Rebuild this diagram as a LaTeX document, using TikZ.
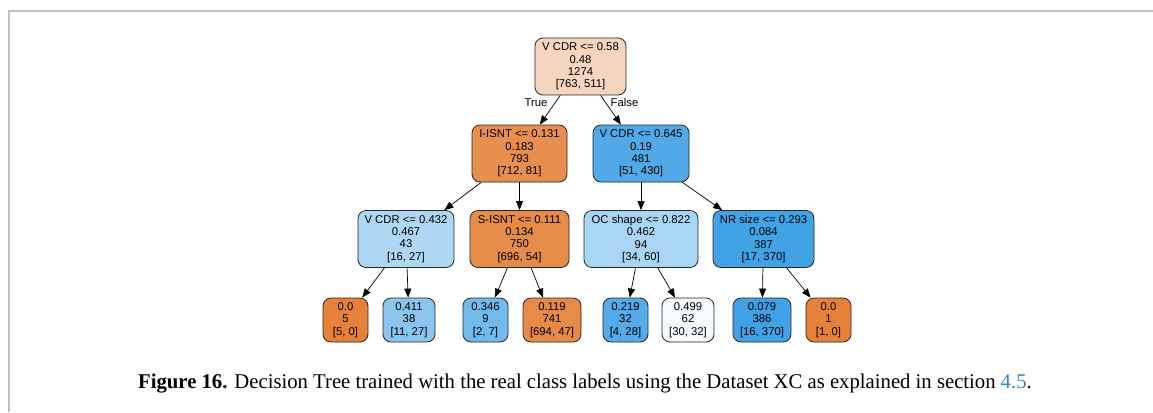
\documentclass[tikz,border=0pt]{standalone}
\usepackage{fontspec}
\setmainfont{Liberation Serif}
\newfontfamily\treefont{Liberation Sans}
\newfontfamily\capfont[FakeStretch=0.986]{Liberation Serif}
\usetikzlibrary{arrows.meta}

% class colours of the tree (class 0 orange, class 1 blue)
\definecolor{clsA}{RGB}{229,129,57}
\definecolor{clsB}{RGB}{57,157,229}
\definecolor{framegray}{RGB}{192,192,192}
\definecolor{linkblue}{RGB}{60,130,190}

\tikzset{
  treenode/.style={draw=black!85, line width=0.8bp, rounded corners=8bp,
    inner sep=0pt, align=center,
    font=\treefont\fontsize{11.3bp}{12.3bp}\selectfont},
  splitnode/.style={treenode, minimum height=57bp},
  leafnode/.style={treenode, minimum height=44bp},
  treeedge/.style={-{Triangle[length=9bp,width=7bp]}, line width=0.7bp, black},
  branchlabel/.style={inner sep=0pt, font=\treefont\fontsize{11.3bp}{12.3bp}\selectfont},
}

\begin{document}
\begin{tikzpicture}[x=1bp, y=-1bp]
\useasboundingbox (0,0) rectangle (1153,412);

% page frame
\draw[framegray, line width=2bp] (8.5,412) -- (8.5,10.5) -- (1153,10.5);

% root
\node[splitnode, fill=clsA!33, minimum width=91bp] (n0) at (580.5,66.5)
  {V CDR <= 0.58\\0.48\\1274\\{}[763, 511]};

% depth 1
\node[splitnode, fill=clsA!88.6, minimum width=95bp] (n1) at (519.5,153.5)
  {I-ISNT <= 0.131\\0.183\\793\\{}[712, 81]};
\node[splitnode, fill=clsB!88.1, minimum width=96bp] (n2) at (641,153.5)
  {V CDR <= 0.645\\0.19\\481\\{}[51, 430]};

% depth 2
\node[splitnode, fill=clsB!40.7, minimum width=96bp] (n3) at (406,239)
  {V CDR <= 0.432\\0.467\\43\\{}[16, 27]};
\node[splitnode, fill=clsA!92.2, minimum width=99bp] (n4) at (519.5,239)
  {S-ISNT <= 0.111\\0.134\\750\\{}[696, 54]};
\node[splitnode, fill=clsB!43.3, minimum width=114bp] (n5) at (641,239)
  {OC shape <= 0.822\\0.462\\94\\{}[34, 60]};
\node[splitnode, fill=clsB!95.4, minimum width=101bp] (n6) at (763.5,239)
  {NR size <= 0.293\\0.084\\387\\{}[17, 370]};

% leaves
\node[leafnode, fill=clsA, minimum width=45bp] (n7) at (345.5,320)
  {0.0\\5\\{}[5, 0]};
\node[leafnode, fill=clsB!59.3, minimum width=52bp] (n8) at (409,320)
  {0.411\\38\\{}[11, 27]};
\node[leafnode, fill=clsB!71.4, minimum width=45bp] (n9) at (485.5,320)
  {0.346\\9\\{}[2, 7]};
\node[leafnode, fill=clsA!93.2, minimum width=58bp] (n10) at (552,320)
  {0.119\\741\\{}[694, 47]};
\node[leafnode, fill=clsB!85.7, minimum width=45bp] (n11) at (625.5,320)
  {0.219\\32\\{}[4, 28]};
\node[leafnode, fill=clsB!6.25, minimum width=52bp] (n12) at (688,320)
  {0.499\\62\\{}[30, 32]};
\node[leafnode, fill=clsB!95.7, minimum width=58bp] (n13) at (762,320)
  {0.079\\386\\{}[16, 370]};
\node[leafnode, fill=clsA, minimum width=45bp] (n14) at (828.5,320)
  {0.0\\1\\{}[1, 0]};

% branches
\draw[treeedge] (n0) -- (n1);
\draw[treeedge] (n0) -- (n2);
\draw[treeedge] (n1) -- (n3);
\draw[treeedge] (n1) -- (n4);
\draw[treeedge] (n2) -- (n5);
\draw[treeedge] (n2) -- (n6);
\draw[treeedge] (n3) -- (n7);
\draw[treeedge] (n3) -- (n8);
\draw[treeedge] (n4) -- (n9);
\draw[treeedge] (n4) -- (n10);
\draw[treeedge] (n5) -- (n11);
\draw[treeedge] (n5) -- (n12);
\draw[treeedge] (n6) -- (n13);
\draw[treeedge] (n6) -- (n14);

\node[branchlabel] (lt) at (536,102.5) {True};
\node[branchlabel] (lf) at (624.5,102.5) {False};

% caption
\node[anchor=base west, inner sep=0pt, font=\capfont\fontsize{21bp}{24bp}\selectfont] (cap) at (138,388.5)
  {{\bfseries Figure 16.} Decision Tree trained with the real class labels using the Dataset XC as explained in section {\color{linkblue}4.5}.};
\end{tikzpicture}
\end{document}
